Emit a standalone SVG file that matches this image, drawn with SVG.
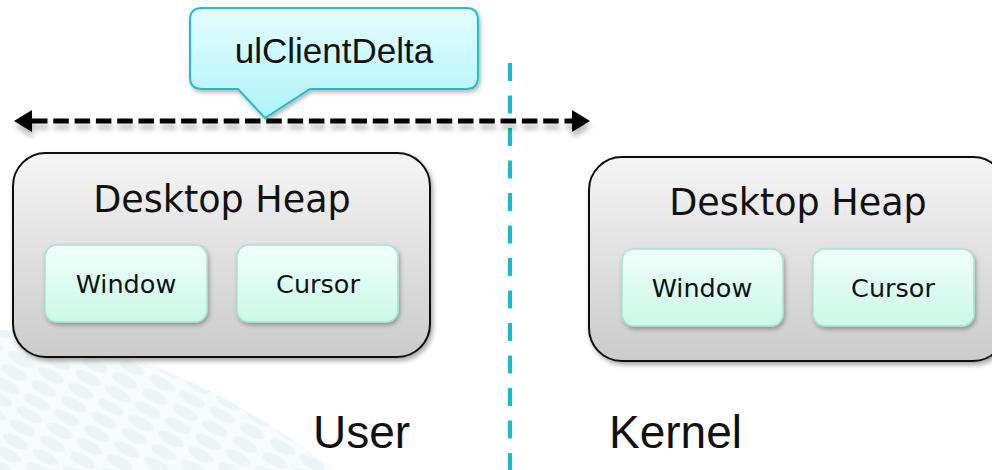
<svg xmlns="http://www.w3.org/2000/svg" width="992" height="470" viewBox="0 0 992 470">
  <style>
    .heap { fill: url(#heapGrad); stroke: #111; stroke-width: 2; filter: url(#shadow); }
    .item { fill: url(#itemGrad); stroke: #a6e3d3; stroke-width: 1.5; filter: url(#shadowSoft); }
    .heapText { font-family: "DejaVu Sans", Verdana, sans-serif; font-size: 36.5px; fill: #111; text-anchor: middle; }
    .itemText { font-family: "DejaVu Sans", Verdana, sans-serif; font-size: 25.5px; fill: #111; text-anchor: middle; }
    .side { font-family: "Liberation Sans", Arial, sans-serif; font-size: 46px; fill: #111; }
    .callText { font-family: "Liberation Sans", Arial, sans-serif; font-size: 35px; fill: #111; text-anchor: middle; }
  </style>
  <defs>
    <linearGradient id="heapGrad" x1="0" y1="0" x2="0" y2="1">
      <stop offset="0" stop-color="#f5f5f5"/>
      <stop offset="1" stop-color="#cbcbcb"/>
    </linearGradient>
    <linearGradient id="itemGrad" x1="0" y1="0" x2="0" y2="1">
      <stop offset="0" stop-color="#f0fffa"/>
      <stop offset="1" stop-color="#cbf8e7"/>
    </linearGradient>
    <linearGradient id="callGrad" x1="0" y1="0" x2="0" y2="1">
      <stop offset="0" stop-color="#e6fdff"/>
      <stop offset="1" stop-color="#aef3f8"/>
    </linearGradient>
    <filter id="shadow" x="-10%" y="-10%" width="125%" height="130%">
      <feDropShadow dx="2" dy="3" stdDeviation="2.5" flood-color="#000" flood-opacity="0.35"/>
    </filter>
    <filter id="shadowSoft" x="-10%" y="-10%" width="125%" height="130%">
      <feDropShadow dx="1.5" dy="2.5" stdDeviation="2" flood-color="#000" flood-opacity="0.3"/>
    </filter>
    <filter id="lineShadow" filterUnits="userSpaceOnUse" x="0" y="95" width="620" height="60">
      <feDropShadow dx="1" dy="6" stdDeviation="2.5" flood-color="#000" flood-opacity="0.25"/>
    </filter>
    <marker id="head" viewBox="0 0 18 22" refX="0" refY="11" markerWidth="18" markerHeight="22" markerUnits="userSpaceOnUse" orient="auto-start-reverse">
      <path d="M0,0 L18,11 L0,22 Z" fill="#000"/>
    </marker>
    <pattern id="dots" patternUnits="userSpaceOnUse" width="34" height="15" patternTransform="rotate(28)">
      <ellipse cx="17" cy="7.5" rx="14" ry="5.5" fill="#dcedf2"/>
    </pattern>
  </defs>

  <rect width="992" height="470" fill="#ffffff"/>

  <g id="background" opacity="0.55">
    <path d="M0,330 Q170,345 335,470 L0,470 Z" fill="#f2f8fa"/>
    <path d="M0,330 Q170,345 335,470 L0,470 Z" fill="url(#dots)"/>
  </g>

  <g id="connectors">
    <line x1="510" y1="63" x2="510" y2="470" stroke="#19bccb" stroke-width="4" stroke-dasharray="18 14.5"/>
    <g filter="url(#lineShadow)">
      <line x1="32" y1="121" x2="572" y2="121" stroke="#000" stroke-width="5" stroke-dasharray="15.5 5.8" marker-start="url(#head)" marker-end="url(#head)"/>
    </g>
  </g>

  <g id="callout">
    <path d="M202,8 H466 Q478,8 478,20 V77 Q478,89 466,89 H310 L265,118 L238,89 H202 Q190,89 190,77 V20 Q190,8 202,8 Z" fill="url(#callGrad)" stroke="#1fc0c8" stroke-width="2" filter="url(#shadowSoft)"/>
    <text class="callText" x="334" y="63">ulClientDelta</text>
  </g>

  <g id="user-heap">
    <rect class="heap" x="13" y="153" width="417" height="204" rx="33"/>
    <text class="heapText" x="222" y="212">Desktop Heap</text>
  </g>
  <g id="user-window">
    <rect class="item" x="45" y="245" width="162" height="77" rx="12"/>
    <text class="itemText" x="126" y="293">Window</text>
  </g>
  <g id="user-cursor">
    <rect class="item" x="237" y="245" width="161" height="77" rx="12"/>
    <text class="itemText" x="318" y="293">Cursor</text>
  </g>

  <g id="kernel-heap">
    <rect class="heap" x="589" y="157" width="417" height="204" rx="33"/>
    <text class="heapText" x="798" y="215">Desktop Heap</text>
  </g>
  <g id="kernel-window">
    <rect class="item" x="622" y="249" width="161" height="77" rx="12"/>
    <text class="itemText" x="702" y="297">Window</text>
  </g>
  <g id="kernel-cursor">
    <rect class="item" x="813" y="249" width="161" height="77" rx="12"/>
    <text class="itemText" x="893" y="297">Cursor</text>
  </g>

  <g id="labels">
    <text class="side" x="313" y="448">User</text>
    <text class="side" x="609" y="448">Kernel</text>
  </g>
</svg>
